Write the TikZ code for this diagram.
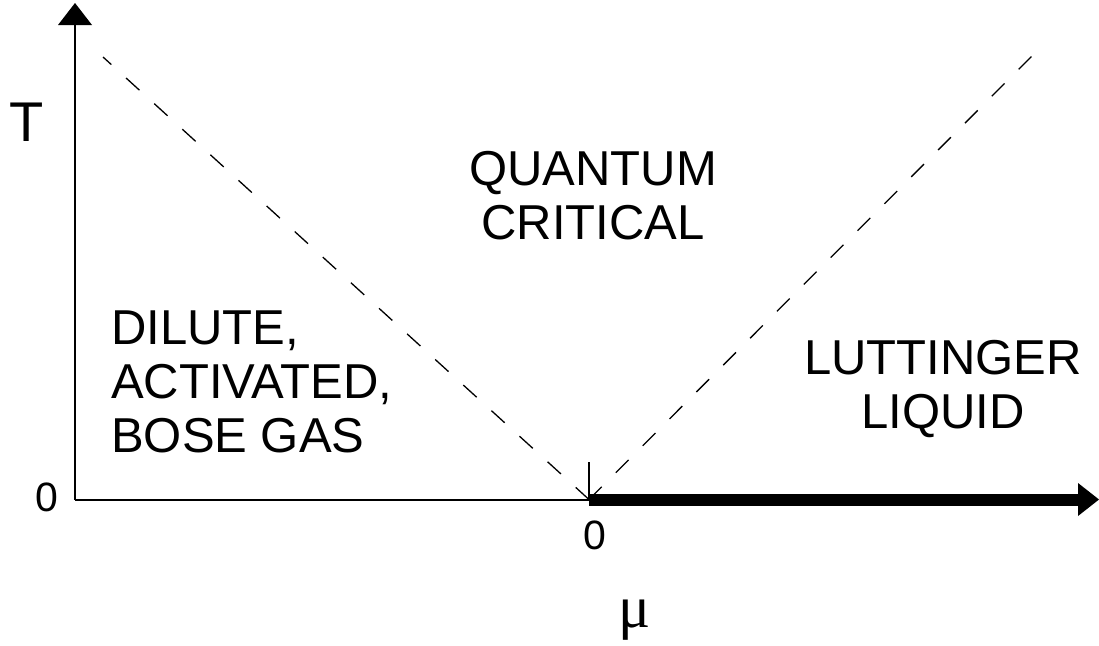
\documentclass[tikz,border=0pt]{standalone}
\usepackage{fontspec}
\setmainfont{Liberation Sans}
\newfontfamily\serifmu{Liberation Serif}
\usetikzlibrary{arrows.meta}
\tikzset{
  axis/.style={line width=2pt, draw=black},
  thickaxis/.style={line width=12pt, draw=black},
  dashline/.style={line width=1.3pt, dash pattern=on 18pt off 20pt},
  region/.style={inner sep=0pt, font=\fontsize{49}{54}\selectfont},
  zero/.style={inner sep=0pt, font=\fontsize{41}{48}\selectfont},
}
\begin{document}
\begin{tikzpicture}[x=1pt,y=-1pt]
\useasboundingbox (0,0) rectangle (1099,645);
% coordinates
\coordinate (O) at (75,499.5);
\coordinate (Ytop) at (75,3);
\coordinate (M0) at (589,499.5);
\coordinate (Xend) at (1099,499.5);
\coordinate (L) at (103,57);
\coordinate (R) at (1035,53);
\coordinate (tick) at (589,462);
% dashed crossover lines
\draw[dashline] (M0) -- (L);
\draw[dashline] (M0) -- (R);
% axes
\draw[axis, -{Triangle[width=34pt,length=22pt,line width=0pt]}] (O) -- (Ytop);
\draw[axis] (O) -- (M0);
\draw[thickaxis, -{Triangle[width=33pt,length=21pt,line width=0pt]}] (M0) -- (Xend);
\draw[line width=1.5pt] (M0) -- (tick);
% labels
\node[inner sep=0pt, anchor=base, font=\fontsize{56}{60}\selectfont] (Tlab) at (26.5,141) {T};
\node[zero] (zeroT) at (46.5,497.5) {0};
\node[zero] (zeroM) at (594.5,535.5) {0};
\node[inner sep=0pt, font=\serifmu\fontsize{60}{64}\selectfont] (mulab) at (635,620) {μ};
\node[region, align=center] (qc) at (593,196) {QUANTUM\\CRITICAL};
\node[region, align=left, anchor=west] (dil) at (111,382) {DILUTE,\\ACTIVATED,\\BOSE GAS};
\node[region, align=center] (ll) at (943,389) {LUTTINGER\\LIQUID};
\end{tikzpicture}
\end{document}
